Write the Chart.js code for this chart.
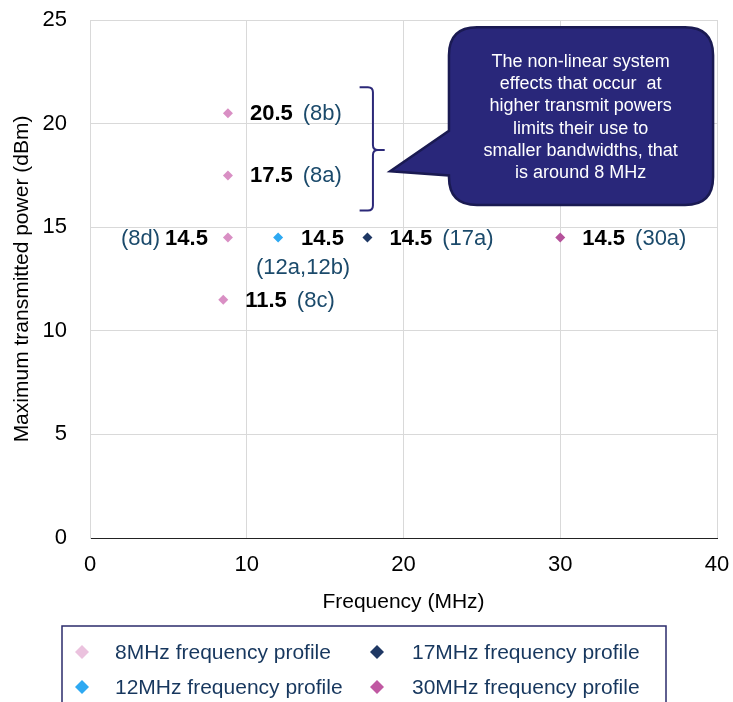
<!DOCTYPE html>
<html>
<head>
<meta charset="utf-8">
<script src="https://cdn.jsdelivr.net/npm/chart.js@4.4.1/dist/chart.umd.min.js"></script>
<style>
  html, body { margin: 0; padding: 0; background: #fff; }
  #wrap { width: 733px; height: 702px; }
</style>
</head>
<body>
<div id="wrap"><canvas id="chart"></canvas></div>
<script>
// ===== Data =====
const seriesNames = ['8MHz frequency profile', '12MHz frequency profile', '17MHz frequency profile', '30MHz frequency profile'];
const seriesColors = ['#D98FC4', '#2EA9F2', '#1F3864', '#B5529B'];
const legendColors = ['#EBC2DE', '#2EA9F2', '#1F3864', '#C058A2'];

const freq8 = [8.8, 8.8, 8.8, 8.5];
const power8 = [20.5, 17.5, 14.5, 11.5];
const tags8 = ['(8b)', '(8a)', '(8d)', '(8c)'];

const freq12 = [12];
const power12 = [14.5];
const tags12 = ['(12a,12b)'];

const freq17 = [17.7];
const power17 = [14.5];
const tags17 = ['(17a)'];

const freq30 = [30];
const power30 = [14.5];
const tags30 = ['(30a)'];

const calloutLines = [
  'The non-linear system',
  'effects that occur  at',
  'higher transmit powers',
  'limits their use to',
  'smaller bandwidths, that',
  'is around 8 MHz'
];

// where each label sits relative to its point
const labelSide = [
  ['right', 'right', 'left', 'right'],
  ['below'],
  ['right'],
  ['right']
];

const FONT = '"Liberation Sans", Arial, sans-serif';

function toPoints(xs, ys) {
  return xs.map((x, i) => ({ x: x, y: ys[i] }));
}

const allTags = [tags8, tags12, tags17, tags30];

// ===== Point labels =====
const pointLabels = {
  id: 'pointLabels',
  afterDatasetsDraw(chart) {
    const ctx = chart.ctx;
    ctx.save();
    ctx.textBaseline = 'middle';
    chart.data.datasets.forEach((ds, di) => {
      const meta = chart.getDatasetMeta(di);
      meta.data.forEach((pt, i) => {
        const val = ds.data[i].y.toFixed(1);
        const tag = allTags[di][i];
        const side = labelSide[di][i];
        ctx.font = 'bold 22px ' + FONT;
        const vw = ctx.measureText(val).width;
        if (side === 'right') {
          ctx.textAlign = 'left';
          ctx.fillStyle = '#000';
          ctx.fillText(val, pt.x + 22, pt.y + 1);
          ctx.font = '22px ' + FONT;
          ctx.fillStyle = '#1B4A6B';
          ctx.fillText(tag, pt.x + 22 + vw + 10, pt.y + 1);
        } else if (side === 'left') {
          ctx.textAlign = 'right';
          ctx.fillStyle = '#000';
          ctx.fillText(val, pt.x - 20, pt.y + 1);
          ctx.font = '22px ' + FONT;
          ctx.fillStyle = '#1B4A6B';
          ctx.fillText(tag, pt.x - 20 - vw - 5, pt.y + 1);
        } else {
          ctx.textAlign = 'left';
          ctx.fillStyle = '#000';
          ctx.fillText(val, pt.x + 23, pt.y + 1);
          ctx.font = '22px ' + FONT;
          ctx.fillStyle = '#1B4A6B';
          ctx.textAlign = 'center';
          ctx.fillText(tag, pt.x + 25, pt.y + 30);
        }
      });
    });
    ctx.restore();
  }
};

// ===== Callout bubble + bracket =====
const callout = {
  id: 'callout',
  afterDraw(chart) {
    const ctx = chart.ctx;
    const sx = chart.scales.x, sy = chart.scales.y;
    const X = v => sx.getPixelForValue(v);
    const Y = v => sy.getPixelForValue(v);

    // bracket
    const bx = X(18.05), bt = Y(21.75), bb = Y(15.8), bm = Y(18.73);
    const hookL = X(17.2), tickR = X(18.8);
    ctx.save();
    ctx.strokeStyle = '#2B2878';
    ctx.lineWidth = 2;
    ctx.beginPath();
    ctx.moveTo(hookL, bt);
    ctx.lineTo(bx - 5, bt);
    ctx.quadraticCurveTo(bx, bt, bx, bt + 5);
    ctx.lineTo(bx, bm - 5);
    ctx.quadraticCurveTo(bx, bm, bx + 5, bm);
    ctx.lineTo(tickR, bm);
    ctx.moveTo(bx + 5, bm);
    ctx.quadraticCurveTo(bx, bm, bx, bm + 5);
    ctx.lineTo(bx, bb - 5);
    ctx.quadraticCurveTo(bx, bb, bx - 5, bb);
    ctx.lineTo(hookL, bb);
    ctx.stroke();

    // bubble
    const L = X(22.9), R = X(39.75), T = Y(24.65), B = Y(16.07), r = 28;
    const tipX = X(19.15), tipY = Y(17.7);
    const baseTop = Y(19.65), baseBot = Y(17.5);
    ctx.beginPath();
    ctx.moveTo(L + r, T);
    ctx.lineTo(R - r, T);
    ctx.quadraticCurveTo(R, T, R, T + r);
    ctx.lineTo(R, B - r);
    ctx.quadraticCurveTo(R, B, R - r, B);
    ctx.lineTo(L + r, B);
    ctx.quadraticCurveTo(L, B, L, B - r);
    ctx.lineTo(L, baseBot);
    ctx.lineTo(tipX, tipY);
    ctx.lineTo(L, baseTop);
    ctx.lineTo(L, T + r);
    ctx.quadraticCurveTo(L, T, L + r, T);
    ctx.closePath();
    ctx.fillStyle = '#29277A';
    ctx.fill();
    ctx.strokeStyle = '#1A1A52';
    ctx.lineWidth = 2.5;
    ctx.stroke();

    ctx.fillStyle = '#fff';
    ctx.font = '18px ' + FONT;
    ctx.textAlign = 'center';
    ctx.textBaseline = 'middle';
    const cx = X(31.3);
    calloutLines.forEach((line, i) => {
      ctx.fillText(line, cx, Y(22.97) + i * 22.2);
    });
    ctx.restore();
  }
};

// ===== Legend box (two columns) =====
const legendBox = {
  id: 'legendBox',
  afterDraw(chart) {
    const ctx = chart.ctx;
    const cols = [82, 377];
    const textCols = [115, 412];
    const rows = [652, 687];
    // column-major: 8 / 12 in first column, 17 / 30 in second
    const cells = [[0, 0], [0, 1], [1, 0], [1, 1]];
    ctx.save();
    ctx.strokeStyle = '#2B2B6B';
    ctx.lineWidth = 1.5;
    ctx.strokeRect(62, 626, 604, 120);
    ctx.textBaseline = 'middle';
    ctx.textAlign = 'left';
    ctx.font = '21px ' + FONT;
    seriesNames.forEach((name, i) => {
      const [c, r] = cells[i];
      const x = cols[c], y = rows[r];
      ctx.fillStyle = legendColors[i];
      ctx.beginPath();
      ctx.moveTo(x, y - 7);
      ctx.lineTo(x + 7, y);
      ctx.lineTo(x, y + 7);
      ctx.lineTo(x - 7, y);
      ctx.closePath();
      ctx.fill();
      ctx.fillStyle = '#17375E';
      ctx.fillText(name, textCols[c], y + 1);
    });
    ctx.restore();
  }
};

// ===== Chart =====
const datasets = [
  toPoints(freq8, power8),
  toPoints(freq12, power12),
  toPoints(freq17, power17),
  toPoints(freq30, power30)
].map((pts, i) => ({
  label: seriesNames[i],
  data: pts,
  backgroundColor: seriesColors[i],
  borderColor: seriesColors[i],
  borderWidth: 0,
  pointStyle: 'rectRot',
  pointRadius: 5,
  showLine: false
}));

new Chart(document.getElementById('chart'), {
  type: 'scatter',
  data: { datasets: datasets },
  options: {
    responsive: true,
    maintainAspectRatio: false,
    animation: false,
    layout: { autoPadding: false, padding: { left: 0, right: 16, top: 20, bottom: 84 } },
    plugins: {
      legend: { display: false },
      tooltip: { enabled: false }
    },
    scales: {
      x: {
        type: 'linear',
        min: 0, max: 40,
        afterFit: s => { s.height = 80; s.paddingLeft = 0; s.paddingRight = 0; },
        ticks: { stepSize: 10, padding: 14, color: '#000', font: { family: FONT, size: 22 } },
        grid: { color: '#D9D9D9', drawTicks: false },
        border: { color: '#222', width: 1 },
        title: { display: true, text: 'Frequency (MHz)', color: '#000', font: { family: FONT, size: 21 }, padding: { top: 0, bottom: 3 } }
      },
      y: {
        min: 0, max: 25,
        afterFit: s => { s.width = 90; s.paddingTop = 0; s.paddingBottom = 0; },
        ticks: { stepSize: 5, padding: 23, color: '#000', font: { family: FONT, size: 22 } },
        grid: { color: c => (c.tick && c.tick.value === 0) ? 'rgba(0,0,0,0)' : '#D9D9D9', drawTicks: false },
        border: { color: '#D9D9D9', width: 1 },
        title: { display: true, text: 'Maximum transmitted power (dBm)', color: '#000', font: { family: FONT, size: 21 }, padding: { top: 10, bottom: 0 } }
      }
    }
  },
  plugins: [pointLabels, callout, legendBox]
});
</script>
</body>
</html>
